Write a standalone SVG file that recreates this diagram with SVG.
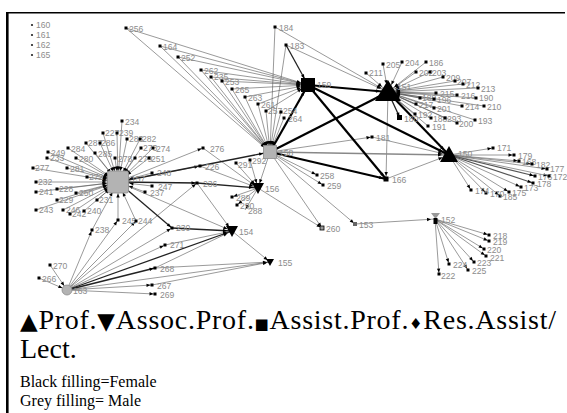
<svg xmlns="http://www.w3.org/2000/svg" xmlns:xlink="http://www.w3.org/1999/xlink" width="567" height="413" viewBox="0 0 567 413">
<style>
.l{font-family:"Liberation Sans",Arial,sans-serif;font-size:8.6px;fill:#8c8c8c}
.e{stroke:#555;stroke-width:.6;fill:none}
.t{stroke:#000;stroke-width:2.2}
.m{stroke:#222;stroke-width:1.3}
.g{stroke:#888;stroke-width:1.5}
.kL{marker-end:url(#mL)}
.k157{marker-end:url(#m157)}
.k158{marker-end:url(#m158)}
.k159{marker-end:url(#m159)}
.k151{marker-end:url(#m151)}
.k150{marker-end:url(#m150)}
.k156{marker-end:url(#m156)}
.k154{marker-end:url(#m154)}
.k155{marker-end:url(#m155)}
.k163{marker-end:url(#m163)}
.k152{marker-end:url(#m152)}
.k166{marker-end:url(#m166)}
.lg{font-family:"Liberation Serif","Times New Roman",serif;fill:#000}
.sym{font-family:"DejaVu Sans",sans-serif;font-size:23px}
.sym2{font-family:"DejaVu Sans",sans-serif;font-size:15px}
.hg{fill:#b3b3b3;stroke:#8a8a8a;stroke-width:.8}
</style>
<defs>
<rect id="sq" x="-1.5" y="-1.5" width="3" height="3" fill="#000"/>
<circle id="dt" r="1.1" fill="#222"/>
<marker id="mL" markerUnits="userSpaceOnUse" orient="auto" refX="1.5" refY="0" markerWidth="6" markerHeight="6" overflow="visible"><path d="M-4,-1.7L0,0L-4,1.7z"/></marker>
<marker id="m157" markerUnits="userSpaceOnUse" orient="auto" refX="11.5" refY="0" markerWidth="6" markerHeight="6" overflow="visible"><path d="M-4,-1.7L0,0L-4,1.7z"/></marker>
<marker id="m158" markerUnits="userSpaceOnUse" orient="auto" refX="7" refY="0" markerWidth="6" markerHeight="6" overflow="visible"><path d="M-4,-1.7L0,0L-4,1.7z"/></marker>
<marker id="m159" markerUnits="userSpaceOnUse" orient="auto" refX="7.5" refY="0" markerWidth="6" markerHeight="6" overflow="visible"><path d="M-4,-1.7L0,0L-4,1.7z"/></marker>
<marker id="m151" markerUnits="userSpaceOnUse" orient="auto" refX="8" refY="0" markerWidth="6" markerHeight="6" overflow="visible"><path d="M-4,-1.7L0,0L-4,1.7z"/></marker>
<marker id="m150" markerUnits="userSpaceOnUse" orient="auto" refX="7" refY="0" markerWidth="6" markerHeight="6" overflow="visible"><path d="M-4,-1.7L0,0L-4,1.7z"/></marker>
<marker id="m156" markerUnits="userSpaceOnUse" orient="auto" refX="5" refY="0" markerWidth="6" markerHeight="6" overflow="visible"><path d="M-4,-1.7L0,0L-4,1.7z"/></marker>
<marker id="m154" markerUnits="userSpaceOnUse" orient="auto" refX="5" refY="0" markerWidth="6" markerHeight="6" overflow="visible"><path d="M-4,-1.7L0,0L-4,1.7z"/></marker>
<marker id="m155" markerUnits="userSpaceOnUse" orient="auto" refX="3" refY="0" markerWidth="6" markerHeight="6" overflow="visible"><path d="M-4,-1.7L0,0L-4,1.7z"/></marker>
<marker id="m163" markerUnits="userSpaceOnUse" orient="auto" refX="5" refY="0" markerWidth="6" markerHeight="6" overflow="visible"><path d="M-4,-1.7L0,0L-4,1.7z"/></marker>
<marker id="m152" markerUnits="userSpaceOnUse" orient="auto" refX="4" refY="0" markerWidth="6" markerHeight="6" overflow="visible"><path d="M-4,-1.7L0,0L-4,1.7z"/></marker>
<marker id="m166" markerUnits="userSpaceOnUse" orient="auto" refX="3" refY="0" markerWidth="6" markerHeight="6" overflow="visible"><path d="M-4,-1.7L0,0L-4,1.7z"/></marker>
</defs>
<rect width="567" height="413" fill="#fff"/>
<g id="frame" stroke="#000" fill="none">
<line x1="7.3" y1="12" x2="7.3" y2="413" stroke-width="2.6"/>
<line x1="6" y1="12.7" x2="565" y2="12.7" stroke-width="1.5"/>
</g>
<g id="connectors">
<g class="e k158">
<line x1="126" y1="28" x2="270" y2="152"/><line x1="160" y1="46" x2="270" y2="152"/><line x1="178" y1="57" x2="270" y2="152"/><line x1="201" y1="70" x2="270" y2="152"/><line x1="211" y1="77" x2="270" y2="152"/><line x1="222" y1="81" x2="270" y2="152"/><line x1="232" y1="89" x2="270" y2="152"/><line x1="245" y1="97" x2="270" y2="152"/><line x1="258" y1="104" x2="270" y2="152"/><line x1="266" y1="111" x2="270" y2="152"/><line x1="281" y1="112" x2="270" y2="152"/><line x1="284" y1="118" x2="270" y2="152"/><line x1="275" y1="27" x2="270" y2="152"/><line x1="286" y1="45" x2="270" y2="152"/>
</g>
<g class="e k159">
<line x1="126" y1="28" x2="308" y2="85"/><line x1="160" y1="46" x2="308" y2="85"/><line x1="178" y1="57" x2="308" y2="85"/><line x1="201" y1="70" x2="308" y2="85"/><line x1="211" y1="77" x2="308" y2="85"/><line x1="222" y1="81" x2="308" y2="85"/><line x1="232" y1="89" x2="308" y2="85"/><line x1="245" y1="97" x2="308" y2="85"/><line x1="258" y1="104" x2="308" y2="85"/><line x1="266" y1="111" x2="308" y2="85"/>
</g>
<g class="e k151">
<line x1="366" y1="73" x2="388" y2="92"/><line x1="383" y1="64" x2="388" y2="92"/><line x1="402" y1="62" x2="388" y2="92"/><line x1="426" y1="62" x2="388" y2="92"/><line x1="416" y1="72" x2="388" y2="92"/><line x1="430" y1="72" x2="388" y2="92"/><line x1="443" y1="77" x2="388" y2="92"/><line x1="455" y1="81" x2="388" y2="92"/><line x1="463" y1="84" x2="388" y2="92"/><line x1="478" y1="88" x2="388" y2="92"/><line x1="436" y1="93" x2="388" y2="92"/><line x1="457" y1="95" x2="388" y2="92"/><line x1="420" y1="98" x2="388" y2="92"/><line x1="434" y1="99" x2="388" y2="92"/><line x1="476" y1="98" x2="388" y2="92"/><line x1="462" y1="106" x2="388" y2="92"/><line x1="484" y1="106" x2="388" y2="92"/><line x1="416" y1="104" x2="388" y2="92"/><line x1="434" y1="108" x2="388" y2="92"/><line x1="415" y1="114" x2="388" y2="92"/><line x1="431" y1="118" x2="388" y2="92"/><line x1="445" y1="118" x2="388" y2="92"/><line x1="457" y1="123" x2="388" y2="92"/><line x1="475" y1="120" x2="388" y2="92"/><line x1="428" y1="126" x2="388" y2="92"/><line x1="275" y1="27" x2="388" y2="92"/><line x1="286" y1="45" x2="388" y2="92"/>
</g>
<g class="e kL">
<line x1="449" y1="155" x2="493" y2="148"/><line x1="449" y1="155" x2="514" y2="155"/><line x1="449" y1="155" x2="519" y2="161"/><line x1="449" y1="155" x2="532" y2="164"/><line x1="449" y1="155" x2="547" y2="169"/><line x1="449" y1="155" x2="535" y2="176" stroke-width="1.1"/><line x1="449" y1="155" x2="549" y2="176"/><line x1="449" y1="155" x2="533" y2="183" stroke-width="1.1"/><line x1="449" y1="155" x2="521" y2="187"/><line x1="449" y1="155" x2="509" y2="192"/><line x1="449" y1="155" x2="500" y2="196"/><line x1="449" y1="155" x2="486" y2="193"/><line x1="449" y1="155" x2="471" y2="190"/>
<line x1="435" y1="219" x2="489" y2="235"/><line x1="435" y1="219" x2="489" y2="241"/><line x1="435" y1="219" x2="484" y2="249"/><line x1="435" y1="219" x2="486" y2="256"/><line x1="435" y1="219" x2="474" y2="262"/><line x1="435" y1="219" x2="468" y2="270"/><line x1="435" y1="219" x2="449" y2="264"/><line x1="435" y1="219" x2="439" y2="274"/>
<line x1="270" y1="152" x2="317" y2="175"/><line x1="270" y1="152" x2="323" y2="185"/><line x1="270" y1="152" x2="355" y2="224"/><line x1="270" y1="152" x2="322" y2="228"/><line x1="258" y1="188" x2="322" y2="228"/><line x1="270" y1="152" x2="372" y2="137"/>
<line x1="258" y1="188" x2="232" y2="197"/><line x1="258" y1="188" x2="237" y2="205"/><line x1="258" y1="188" x2="245" y2="210"/>
<line x1="118" y1="182" x2="203" y2="148"/><line x1="118" y1="182" x2="200" y2="166"/>
<line x1="67" y1="290" x2="92" y2="230"/><line x1="67" y1="290" x2="118" y2="220"/><line x1="67" y1="290" x2="136" y2="221"/><line x1="67" y1="290" x2="172" y2="228"/><line x1="67" y1="290" x2="165" y2="245"/><line x1="67" y1="290" x2="152" y2="285"/><line x1="67" y1="290" x2="155" y2="294"/><line x1="67" y1="290" x2="197" y2="183"/>
<line class="m" x1="67" y1="290" x2="155" y2="268"/>
<line class="m" x1="388" y1="92" x2="400" y2="118"/>
</g>
<g class="e k157">
<line x1="122" y1="121" x2="118" y2="182"/><line x1="103" y1="133" x2="118" y2="182"/><line x1="117" y1="133" x2="118" y2="182"/><line x1="127" y1="139" x2="118" y2="182"/><line x1="140" y1="139" x2="118" y2="182"/><line x1="86" y1="143" x2="118" y2="182"/><line x1="100" y1="143" x2="118" y2="182"/><line x1="68" y1="148" x2="118" y2="182"/><line x1="141" y1="148" x2="118" y2="182"/><line x1="153" y1="148" x2="118" y2="182"/><line x1="48" y1="152" x2="118" y2="182"/><line x1="95" y1="153" x2="118" y2="182"/><line x1="47" y1="158" x2="118" y2="182"/><line x1="76" y1="158" x2="118" y2="182"/><line x1="115" y1="158" x2="118" y2="182"/><line x1="135" y1="158" x2="118" y2="182"/><line x1="149" y1="158" x2="118" y2="182"/><line x1="33" y1="168" x2="118" y2="182"/><line x1="67" y1="168" x2="118" y2="182"/><line x1="152" y1="173" x2="118" y2="182"/><line x1="87" y1="177" x2="118" y2="182"/><line x1="36" y1="182" x2="118" y2="182"/><line x1="152" y1="186" x2="118" y2="182"/><line x1="57" y1="189" x2="118" y2="182"/><line x1="36" y1="192" x2="118" y2="182"/><line x1="76" y1="193" x2="118" y2="182"/><line x1="145" y1="192" x2="118" y2="182"/><line x1="57" y1="200" x2="118" y2="182"/><line x1="97" y1="200" x2="118" y2="182"/><line x1="36" y1="210" x2="118" y2="182"/><line x1="63" y1="210" x2="118" y2="182"/><line x1="70" y1="214" x2="118" y2="182"/><line x1="84" y1="211" x2="118" y2="182"/><line x1="118" y1="220" x2="118" y2="182"/><line x1="136" y1="221" x2="118" y2="182"/><line x1="92" y1="230" x2="118" y2="182"/>
</g>
<g class="e">
<line class="k166" x1="388" y1="92" x2="386" y2="179"/>
<line class="k150" x1="386" y1="179" x2="449" y2="155"/>
<line class="k150" x1="372" y1="137" x2="449" y2="155"/>
<line class="k152" x1="355" y1="224" x2="435" y2="219"/>
<line class="k156" x1="270" y1="152" x2="258" y2="188"/>
<line class="k156" x1="236" y1="163" x2="258" y2="188"/>
<line class="k156" x1="250" y1="160" x2="258" y2="188"/>
<line class="k156" x1="203" y1="148" x2="258" y2="188"/>
<line class="k156" x1="200" y1="166" x2="258" y2="188"/>
<line class="k154" x1="118" y1="182" x2="232" y2="231"/>
<line class="k154" x1="197" y1="183" x2="232" y2="231"/>
<line class="k154" x1="165" y1="245" x2="232" y2="231"/>
<line class="k154" x1="155" y1="268" x2="232" y2="231"/>
<line class="k155" x1="232" y1="231" x2="270" y2="262"/>
<line class="k155" x1="67" y1="290" x2="270" y2="262"/>
<line class="k155" x1="155" y1="268" x2="270" y2="262"/>
<line class="k155" x1="152" y1="285" x2="270" y2="262"/>
<line class="k163" x1="50" y1="265" x2="67" y2="290"/>
<line class="k163" x1="39" y1="278" x2="67" y2="290"/>
</g>
<line class="g k150" x1="270" y1="152" x2="449" y2="155"/>
<g class="m">
<line class="k159" x1="286" y1="45" x2="308" y2="85"/>
<line class="k158" x1="118" y1="182" x2="270" y2="152"/>
<line class="kL" x1="118" y1="182" x2="197" y2="183"/>
<line class="k156" x1="197" y1="183" x2="258" y2="188"/>
<line class="kL" x1="118" y1="182" x2="172" y2="228"/>
<line class="k154" x1="172" y1="228" x2="232" y2="231"/>
<line class="k154" x1="67" y1="290" x2="232" y2="231"/>
</g>
<g class="t">
<line class="k151" x1="308" y1="85" x2="388" y2="92"/>
<line class="k159" x1="270" y1="152" x2="308" y2="85"/>
<line class="k166" x1="308" y1="85" x2="386" y2="179"/>
<line class="k150" x1="308" y1="85" x2="449" y2="155"/>
<line class="k151" x1="270" y1="152" x2="388" y2="92"/>
<line class="k166" x1="270" y1="152" x2="386" y2="179"/>
<line class="k150" x1="388" y1="92" x2="449" y2="155"/>
</g>
</g>
<g id="nodes">
<g id="n160"><use href="#dt" x="32" y="25"/><text class="l" x="36" y="28">160</text></g>
<g id="n161"><use href="#dt" x="32" y="35"/><text class="l" x="36" y="38">161</text></g>
<g id="n162"><use href="#dt" x="32" y="45"/><text class="l" x="36" y="48">162</text></g>
<g id="n165"><use href="#dt" x="32" y="55"/><text class="l" x="36" y="58">165</text></g>
<g id="n256"><use href="#sq" x="126" y="28"/><text class="l" x="129" y="32">256</text></g>
<g id="n164"><use href="#sq" x="160" y="46"/><text class="l" x="163" y="50">164</text></g>
<g id="n252"><use href="#sq" x="178" y="57"/><text class="l" x="181" y="61">252</text></g>
<g id="n262"><use href="#sq" x="201" y="70"/><text class="l" x="204" y="74">262</text></g>
<g id="n235"><use href="#sq" x="211" y="77"/><text class="l" x="214" y="80">235</text></g>
<g id="n253"><use href="#sq" x="222" y="81"/><text class="l" x="225" y="85">253</text></g>
<g id="n265"><use href="#sq" x="232" y="89"/><text class="l" x="235" y="93">265</text></g>
<g id="n263"><use href="#sq" x="245" y="97"/><text class="l" x="248" y="101">263</text></g>
<g id="n261"><use href="#sq" x="258" y="104"/><text class="l" x="261" y="108">261</text></g>
<g id="n257"><use href="#sq" x="266" y="111"/><text class="l" x="268" y="114">257</text></g>
<g id="n254"><use href="#sq" x="281" y="112"/><text class="l" x="283" y="114">254</text></g>
<g id="n264"><use href="#sq" x="284" y="118"/><text class="l" x="288" y="122">264</text></g>
<g id="n184"><use href="#sq" x="275" y="27"/><text class="l" x="279" y="31">184</text></g>
<g id="n183"><use href="#sq" x="286" y="45"/><text class="l" x="290" y="49">183</text></g>
<g id="n211"><use href="#sq" x="366" y="73"/><text class="l" x="369" y="76">211</text></g>
<g id="n205"><use href="#sq" x="383" y="64"/><text class="l" x="386" y="68">205</text></g>
<g id="n204"><use href="#sq" x="402" y="62"/><text class="l" x="405" y="66">204</text></g>
<g id="n186"><use href="#sq" x="426" y="62"/><text class="l" x="429" y="66">186</text></g>
<g id="n202"><use href="#sq" x="416" y="72"/><text class="l" x="419" y="76">202</text></g>
<g id="n203"><use href="#sq" x="430" y="72"/><text class="l" x="432" y="76">203</text></g>
<g id="n209"><use href="#sq" x="443" y="77"/><text class="l" x="446" y="81">209</text></g>
<g id="n207"><use href="#sq" x="455" y="81"/><text class="l" x="457" y="85">207</text></g>
<g id="n212"><use href="#sq" x="463" y="84"/><text class="l" x="466" y="88">212</text></g>
<g id="n213"><use href="#sq" x="478" y="88"/><text class="l" x="481" y="92">213</text></g>
<g id="n215"><use href="#sq" x="436" y="93"/><text class="l" x="440" y="97">215</text></g>
<g id="n216"><use href="#sq" x="457" y="95"/><text class="l" x="461" y="99">216</text></g>
<g id="n189"><use href="#sq" x="420" y="98"/><text class="l" x="422" y="101">189</text></g>
<g id="n196"><use href="#sq" x="434" y="99"/><text class="l" x="437" y="103">196</text></g>
<g id="n190"><use href="#sq" x="476" y="98"/><text class="l" x="479" y="101">190</text></g>
<g id="n214"><use href="#sq" x="462" y="106"/><text class="l" x="465" y="110">214</text></g>
<g id="n210"><use href="#sq" x="484" y="106"/><text class="l" x="487" y="110">210</text></g>
<g id="n217"><use href="#sq" x="416" y="104"/><text class="l" x="419" y="108">217</text></g>
<g id="n201"><use href="#sq" x="434" y="108"/><text class="l" x="437" y="112">201</text></g>
<g id="n192"><use href="#sq" x="415" y="114"/><text class="l" x="418" y="118">192</text></g>
<g id="n188"><use href="#sq" x="431" y="118"/><text class="l" x="433" y="122">188</text></g>
<g id="n293"><use href="#sq" x="445" y="118"/><text class="l" x="447" y="122">293</text></g>
<g id="n200"><use href="#sq" x="457" y="123"/><text class="l" x="459" y="127">200</text></g>
<g id="n193"><use href="#sq" x="475" y="120"/><text class="l" x="478" y="124">193</text></g>
<g id="n180"><rect x="397" y="115" width="5" height="5" fill="#000"/><text class="l" x="404" y="122">180</text></g>
<g id="n191"><use href="#sq" x="428" y="126"/><text class="l" x="432" y="130">191</text></g>
<g id="n181"><use href="#sq" x="372" y="137"/><text class="l" x="376" y="141">181</text></g>
<g id="n171"><use href="#sq" x="493" y="148"/><text class="l" x="497" y="151">171</text></g>
<g id="n179"><use href="#sq" x="514" y="155"/><text class="l" x="518" y="159">179</text></g>
<g id="n168"><use href="#sq" x="519" y="161"/><text class="l" x="522" y="165">168</text></g>
<g id="n182"><use href="#sq" x="532" y="164"/><text class="l" x="536" y="168">182</text></g>
<g id="n177"><use href="#sq" x="547" y="169"/><text class="l" x="550" y="172">177</text></g>
<g id="n176"><use href="#sq" x="535" y="176"/><text class="l" x="538" y="180">176</text></g>
<g id="n172"><use href="#sq" x="549" y="176"/><text class="l" x="553" y="180">172</text></g>
<g id="n178"><use href="#sq" x="533" y="183"/><text class="l" x="537" y="187">178</text></g>
<g id="n173"><use href="#sq" x="521" y="187"/><text class="l" x="524" y="191">173</text></g>
<g id="n175"><use href="#sq" x="509" y="192"/><text class="l" x="512" y="196">175</text></g>
<g id="n185"><use href="#sq" x="500" y="196"/><text class="l" x="503" y="200">185</text></g>
<g id="n170"><use href="#sq" x="486" y="193"/><text class="l" x="490" y="197">170</text></g>
<g id="n174"><use href="#sq" x="471" y="190"/><text class="l" x="475" y="194">174</text></g>
<g id="n218"><use href="#sq" x="489" y="235"/><text class="l" x="493" y="239">218</text></g>
<g id="n219"><use href="#sq" x="489" y="241"/><text class="l" x="493" y="245">219</text></g>
<g id="n220"><use href="#sq" x="484" y="249"/><text class="l" x="487" y="253">220</text></g>
<g id="n221"><use href="#sq" x="486" y="256"/><text class="l" x="490" y="261">221</text></g>
<g id="n223"><use href="#sq" x="474" y="262"/><text class="l" x="477" y="266">223</text></g>
<g id="n225"><use href="#sq" x="468" y="270"/><text class="l" x="472" y="274">225</text></g>
<g id="n224"><use href="#sq" x="449" y="264"/><text class="l" x="453" y="268">224</text></g>
<g id="n222"><use href="#sq" x="439" y="274"/><text class="l" x="441" y="279">222</text></g>
<g id="n153"><rect x="353" y="222" width="4" height="4" fill="#666"/><text class="l" x="359" y="228">153</text></g>
<g id="n258"><use href="#sq" x="317" y="175"/><text class="l" x="320" y="179">258</text></g>
<g id="n259"><use href="#sq" x="323" y="185"/><text class="l" x="327" y="189">259</text></g>
<g id="n260"><rect x="320" y="226" width="4" height="4" fill="#999" stroke="#000" stroke-width=".8"/><text class="l" x="326" y="232">260</text></g>
<g id="n291"><use href="#sq" x="236" y="163"/><text class="l" x="238" y="168">291</text></g>
<g id="n292"><use href="#sq" x="250" y="160"/><text class="l" x="252" y="164">292</text></g>
<g id="n289"><use href="#sq" x="232" y="197"/><text class="l" x="236" y="201">289</text></g>
<g id="n290"><use href="#sq" x="237" y="205"/><text class="l" x="240" y="209">290</text></g>
<g id="n288"><text class="l" x="248" y="214">288</text></g>
<g id="n276"><use href="#sq" x="203" y="148"/><text class="l" x="210" y="152">276</text></g>
<g id="n226"><use href="#sq" x="200" y="166"/><text class="l" x="205" y="170">226</text></g>
<g id="n236"><use href="#sq" x="197" y="183"/><text class="l" x="203" y="187">236</text></g>
<g id="n234"><use href="#sq" x="122" y="121"/><text class="l" x="125" y="125">234</text></g>
<g id="n227"><use href="#sq" x="103" y="133"/><text class="l" x="105" y="136">227</text></g>
<g id="n239"><use href="#sq" x="117" y="133"/><text class="l" x="119" y="136">239</text></g>
<g id="n283"><use href="#sq" x="127" y="139"/><text class="l" x="129" y="142">283</text></g>
<g id="n282"><use href="#sq" x="140" y="139"/><text class="l" x="142" y="142">282</text></g>
<g id="n287"><use href="#sq" x="86" y="143"/><text class="l" x="88" y="146">287</text></g>
<g id="n286"><use href="#sq" x="100" y="143"/><text class="l" x="101" y="146">286</text></g>
<g id="n284"><use href="#sq" x="68" y="148"/><text class="l" x="71" y="152">284</text></g>
<g id="n273"><use href="#sq" x="141" y="148"/><text class="l" x="143" y="151">273</text></g>
<g id="n274"><use href="#sq" x="153" y="148"/><text class="l" x="156" y="152">274</text></g>
<g id="n249"><use href="#sq" x="48" y="152"/><text class="l" x="51" y="156">249</text></g>
<g id="n285"><use href="#sq" x="95" y="153"/><text class="l" x="98" y="157">285</text></g>
<g id="n233"><use href="#sq" x="47" y="158"/><text class="l" x="50" y="161">233</text></g>
<g id="n280"><use href="#sq" x="76" y="158"/><text class="l" x="79" y="162">280</text></g>
<g id="n278"><use href="#sq" x="115" y="158"/><text class="l" x="118" y="162">278</text></g>
<g id="n279"><use href="#sq" x="135" y="158"/><text class="l" x="138" y="162">279</text></g>
<g id="n251"><use href="#sq" x="149" y="158"/><text class="l" x="151" y="162">251</text></g>
<g id="n277"><use href="#sq" x="33" y="168"/><text class="l" x="35" y="171">277</text></g>
<g id="n281"><use href="#sq" x="67" y="168"/><text class="l" x="70" y="172">281</text></g>
<g id="n248"><use href="#sq" x="152" y="173"/><text class="l" x="157" y="176">248</text></g>
<g id="n272"><use href="#sq" x="87" y="177"/><text class="l" x="89" y="180">272</text></g>
<g id="n232"><use href="#sq" x="36" y="182"/><text class="l" x="38" y="185">232</text></g>
<g id="n247"><use href="#sq" x="152" y="186"/><text class="l" x="158" y="190">247</text></g>
<g id="n228"><use href="#sq" x="57" y="189"/><text class="l" x="59" y="192">228</text></g>
<g id="n241"><use href="#sq" x="36" y="192"/><text class="l" x="39" y="195">241</text></g>
<g id="n250"><use href="#sq" x="76" y="193"/><text class="l" x="79" y="196">250</text></g>
<g id="n237"><use href="#sq" x="145" y="192"/><text class="l" x="150" y="196">237</text></g>
<g id="n229"><use href="#sq" x="57" y="200"/><text class="l" x="59" y="203">229</text></g>
<g id="n231"><use href="#sq" x="97" y="200"/><text class="l" x="99" y="203">231</text></g>
<g id="n243"><use href="#sq" x="36" y="210"/><text class="l" x="39" y="213">243</text></g>
<g id="n246"><use href="#sq" x="63" y="210"/><text class="l" x="66" y="213">246</text></g>
<g id="n242"><use href="#sq" x="70" y="214"/><text class="l" x="72" y="217">242</text></g>
<g id="n240"><use href="#sq" x="84" y="211"/><text class="l" x="87" y="214">240</text></g>
<g id="n245"><use href="#sq" x="118" y="220"/><text class="l" x="122" y="224">245</text></g>
<g id="n244"><use href="#sq" x="136" y="221"/><text class="l" x="138" y="224">244</text></g>
<g id="n238"><use href="#sq" x="92" y="230"/><text class="l" x="95" y="233">238</text></g>
<g id="n230"><use href="#sq" x="172" y="228"/><text class="l" x="176" y="231">230</text></g>
<g id="n271"><use href="#sq" x="165" y="245"/><text class="l" x="170" y="248">271</text></g>
<g id="n270"><use href="#sq" x="50" y="265"/><text class="l" x="53" y="269">270</text></g>
<g id="n266"><use href="#sq" x="39" y="278"/><text class="l" x="42" y="282">266</text></g>
<g id="n268"><use href="#sq" x="155" y="268"/><text class="l" x="160" y="272">268</text></g>
<g id="n267"><use href="#sq" x="152" y="285"/><text class="l" x="157" y="289">267</text></g>
<g id="n269"><use href="#sq" x="155" y="294"/><text class="l" x="160" y="298">269</text></g>
<g id="n157"><rect class="hg" x="107.5" y="171" width="21" height="22" rx="2"/><text class="l" x="131" y="182">157</text></g>
<g id="n158"><rect class="hg" x="263.5" y="145.5" width="13" height="13"/><text class="l" x="279" y="156">158</text></g>
<g id="n159"><rect x="301" y="78" width="14" height="14" fill="#000"/><text class="l" x="317" y="88">159</text></g>
<g id="n151"><polygon points="388,80 375,101 401,101" fill="#000"/><text class="l" x="397" y="90">151</text></g>
<g id="n150"><polygon points="449,146 440,162 458,162" fill="#000"/><text class="l" x="458" y="157">150</text></g>
<g id="n156"><polygon points="252,183 264,183 258,194" fill="#000"/><text class="l" x="265" y="192">156</text></g>
<g id="n154"><polygon points="226,226 238,226 232,237" fill="#000"/><text class="l" x="239" y="235">154</text></g>
<g id="n155"><polygon points="266,259 274,259 270,266" fill="#000"/><text class="l" x="278" y="266">155</text></g>
<g id="n163"><circle class="hg" cx="67" cy="290" r="5"/><text class="l" x="73" y="294">163</text></g>
<g id="n166"><rect x="383.5" y="176.5" width="5" height="5" fill="#000"/><text class="l" x="392" y="183">166</text></g>
<g id="n152"><polygon points="431,213 440,213 435.5,219" fill="#999"/><rect x="433.5" y="218" width="4" height="6" fill="#000"/><text class="l" x="441" y="223">152</text></g>
</g>
<g id="legend" class="lg">
<text x="20" y="329" font-size="28" textLength="536" lengthAdjust="spacing"><tspan class="sym">▲</tspan>Prof.<tspan class="sym">▼</tspan>Assoc.Prof.<tspan class="sym2">■</tspan>Assist.Prof.<tspan class="sym2">♦</tspan>Res.Assist/</text>
<text x="20" y="358" font-size="28">Lect.</text>
<text x="20" y="387" font-size="16">Black filling=Female</text>
<text x="20" y="406" font-size="16">Grey filling= Male</text>
</g>
</svg>
